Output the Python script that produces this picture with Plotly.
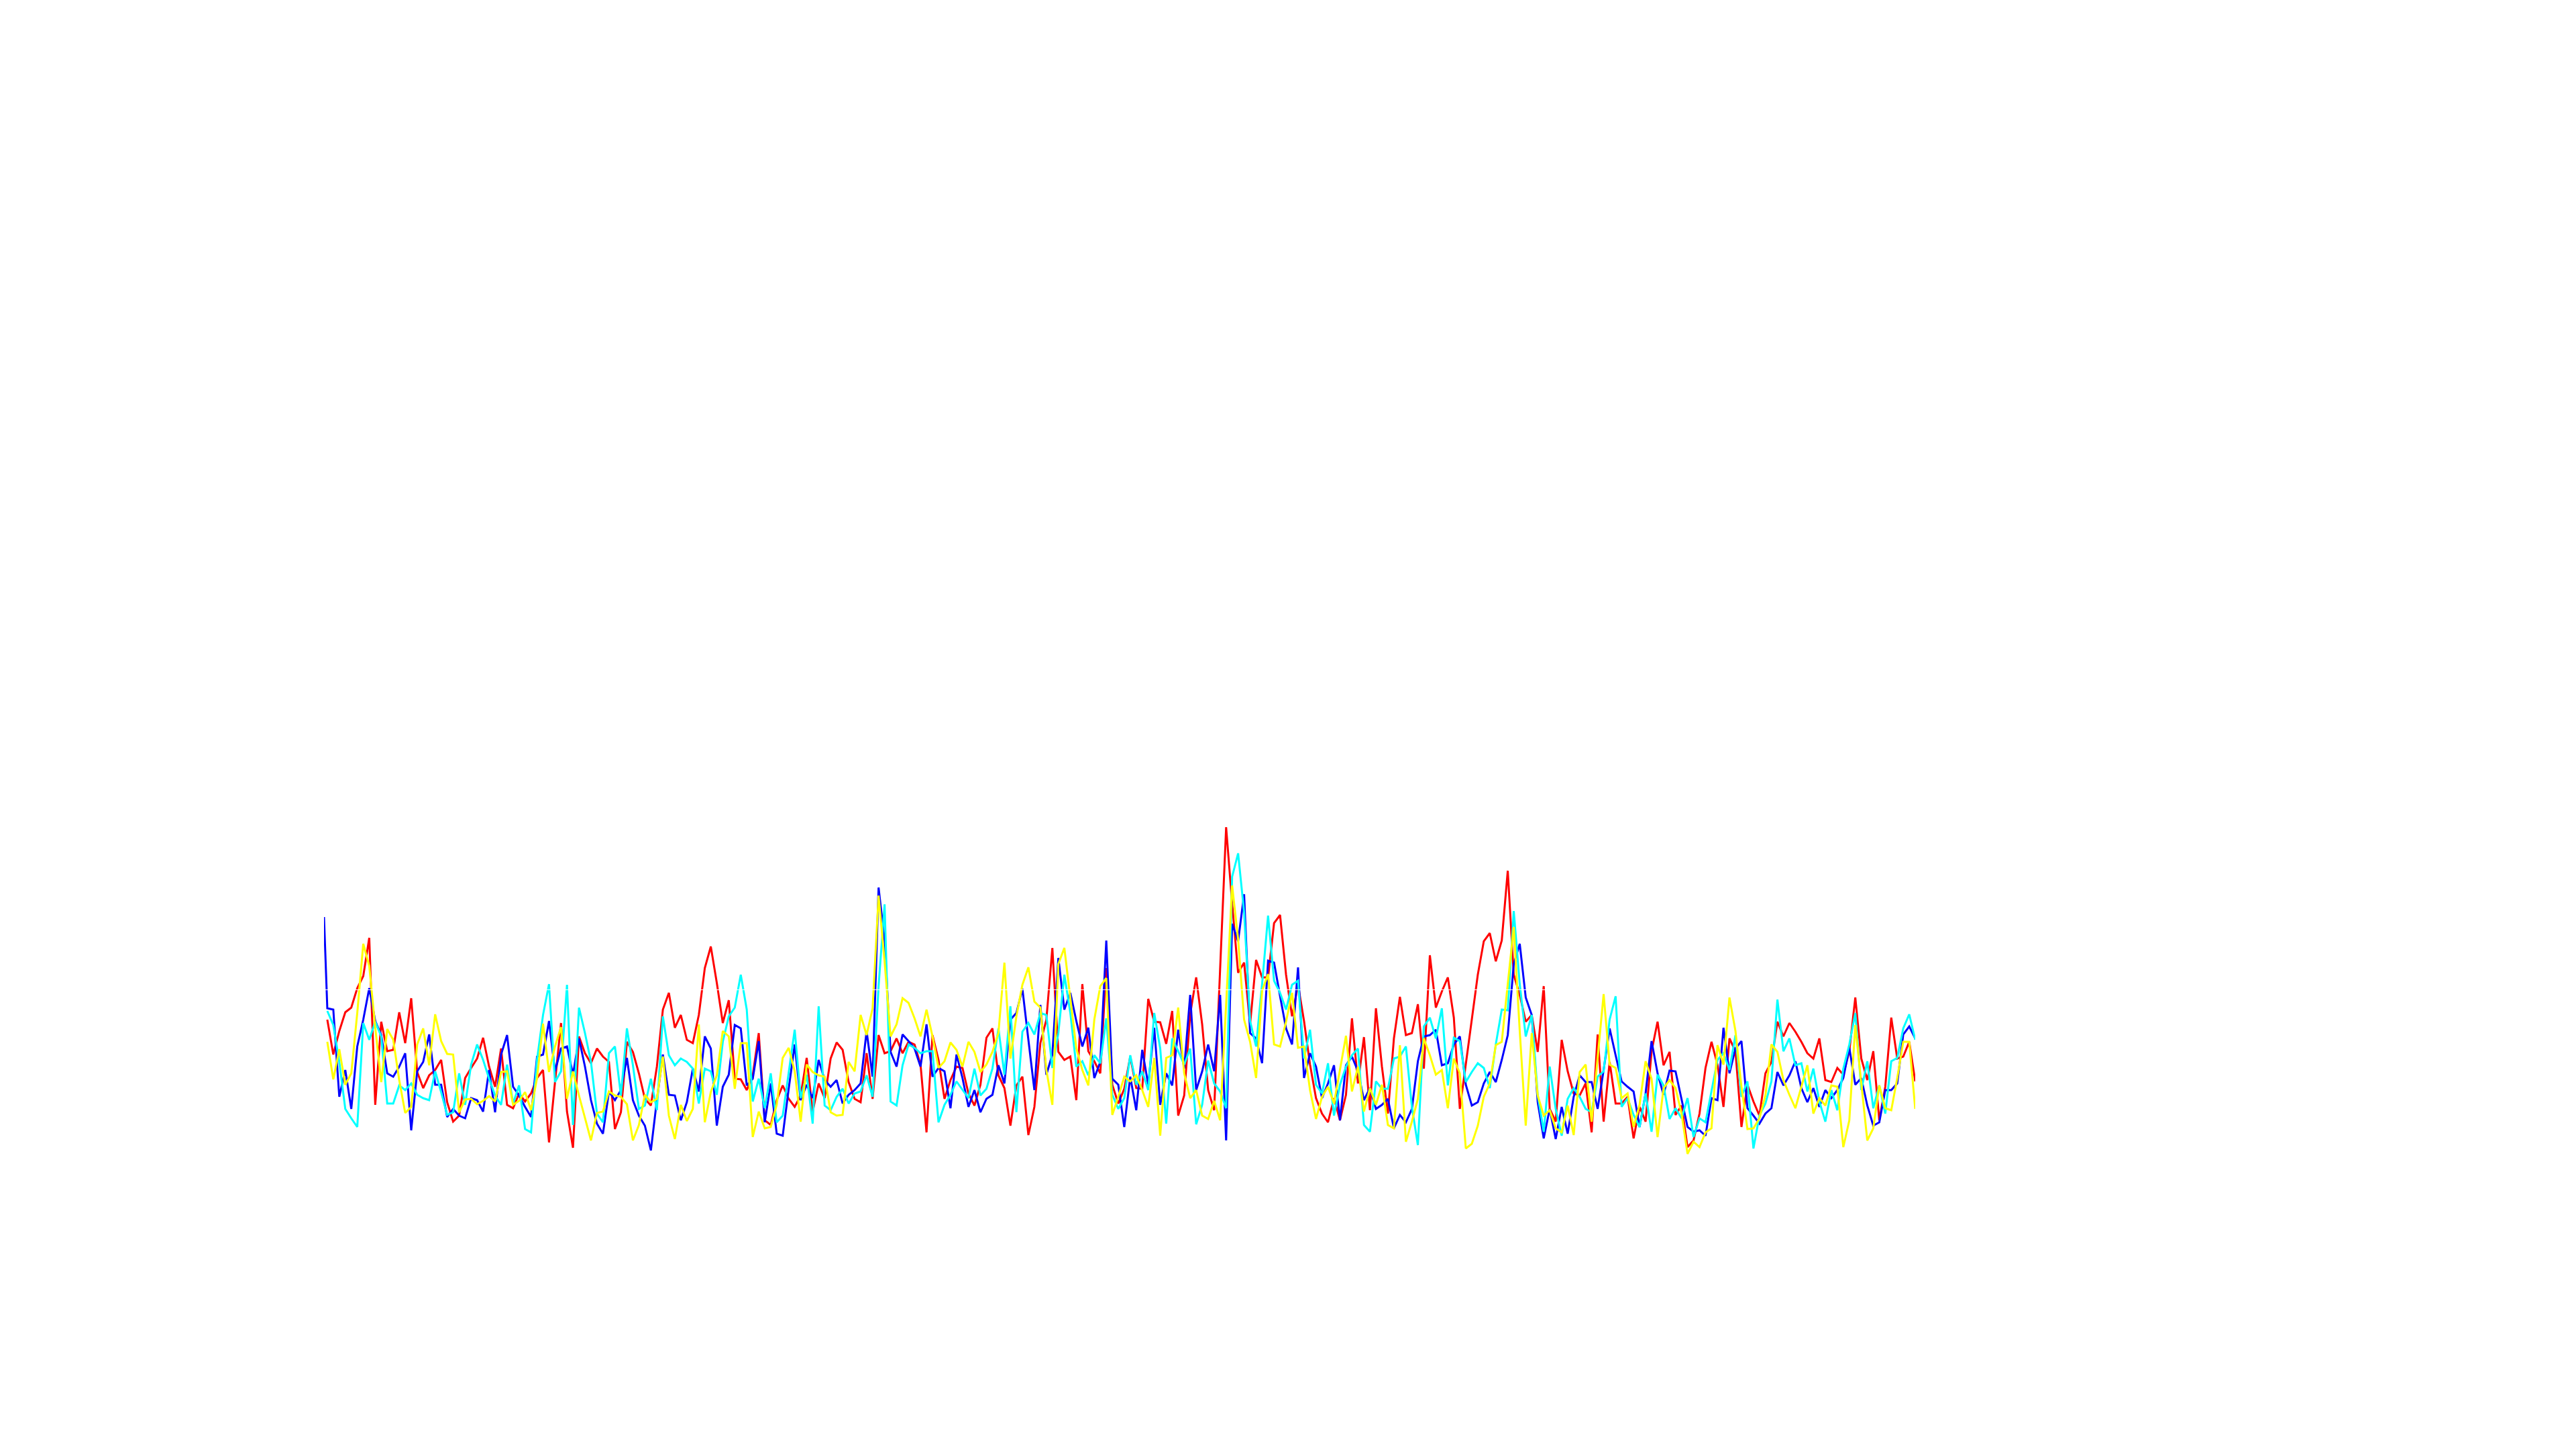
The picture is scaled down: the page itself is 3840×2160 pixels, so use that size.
import plotly.graph_objects as go

# ---- data ----
n_points = 266
x_index = list(range(n_points))
blue_x = [-0.55] + x_index  # blue series has one extra leading sample

red = [21.0, 15.8, 19.3, 22.1, 22.8, 25.7, 27.5, 33.2, 8.3, 20.7, 16.3, 16.5, 22.1, 17.5, 24.2, 13.2, 10.8, 12.7, 13.5, 15.0, 8.7, 5.8, 6.7, 12.3, 13.8, 15.2, 18.3, 14.0, 11.0, 16.7, 8.3, 7.8,
       10.0, 8.8, 10.0, 12.3, 13.5, 2.7, 11.7, 20.5, 7.3, 1.9, 18.5, 16.0, 14.5, 16.7, 15.5, 14.7, 4.7, 7.2, 17.7, 16.2, 13.0, 9.2, 8.2, 14.0, 22.5, 25.0, 19.8, 21.7, 18.0, 17.5, 21.7, 28.7, 31.9, 26.5,
       20.5, 23.9, 12.2, 12.1, 10.5, 12.7, 19.0, 6.0, 5.3, 9.0, 11.2, 9.2, 8.0, 9.7, 15.3, 7.3, 11.5, 9.3, 15.2, 17.6, 16.5, 11.7, 9.2, 8.7, 16.0, 9.2, 18.7, 16.0, 16.3, 18.2, 16.0, 17.7, 17.3, 14.3,
       4.2, 18.7, 15.0, 9.2, 12.0, 14.0, 13.8, 10.0, 8.2, 11.3, 18.3, 19.7, 12.7, 10.8, 5.2, 11.2, 12.5, 3.8, 8.0, 17.5, 21.0, 31.7, 16.2, 15.0, 15.5, 9.0, 26.3, 16.3, 14.8, 13.0, 28.7, 11.3, 8.5,
       10.7, 15.5, 10.8, 10.7, 24.1, 20.7, 20.6, 17.4, 22.3, 6.7, 9.7, 21.8, 27.3, 20.3, 10.5, 7.5, 28.7, 49.7, 38.3, 28.0, 29.5, 20.3, 29.9, 27.3, 27.3, 35.4, 36.6, 27.7, 21.5, 26.2, 20.8, 14.3, 9.3, 7.0,
       5.7, 9.3, 6.0, 9.8, 21.2, 11.5, 18.4, 7.5, 22.7, 14.0, 7.0, 18.2, 24.4, 18.7, 19.0, 23.3, 13.7, 30.6, 22.8, 25.2, 27.3, 21.3, 7.7, 14.3, 20.7, 27.7, 32.7, 33.9, 29.7, 32.8, 43.2, 27.7, 24.7,
       20.7, 21.7, 16.2, 26.0, 7.7, 5.8, 18.0, 13.3, 10.0, 9.7, 11.5, 4.2, 18.8, 5.8, 14.7, 8.5, 8.5, 9.5, 3.3, 8.0, 5.8, 16.3, 20.7, 14.2, 16.2, 6.8, 8.2, 2.0, 3.0, 7.0, 13.8, 17.7, 14.3, 8.0,
       18.2, 16.3, 5.0, 11.3, 8.8, 6.7, 13.0, 14.7, 20.7, 18.5, 20.5, 19.2, 17.7, 16.0, 15.2, 18.2, 12.0, 11.7, 13.8, 12.8, 16.3, 24.3, 15.2, 12.0, 16.3, 6.0, 11.0, 21.3, 15.2, 15.5, 17.7, 11.8]

blue = [36.3,
        22.7, 22.5, 9.5, 13.5, 7.7, 17.0, 21.0, 25.7, 20.8, 18.7, 13.0, 12.5, 14.0, 16.0, 4.5, 13.3, 14.7, 18.8, 11.3, 11.3, 6.5, 7.7, 6.7, 6.3, 9.3, 9.0, 7.3, 13.5, 7.2, 15.8, 18.7, 11.0,
        9.7, 8.0, 6.5, 15.5, 15.8, 20.8, 13.3, 16.7, 17.0, 12.8, 18.2, 14.0, 9.0, 5.5, 4.0, 10.3, 9.0, 10.5, 15.3, 9.0, 6.7, 5.2, 1.5, 9.0, 15.8, 9.8, 9.7, 6.0, 8.7, 13.7, 10.3, 18.5, 16.7, 5.2,
        11.0, 12.8, 20.2, 19.7, 11.2, 12.2, 17.8, 5.7, 11.5, 4.0, 3.7, 10.7, 17.3, 9.0, 11.3, 9.3, 15.0, 12.0, 11.0, 12.0, 8.5, 9.8, 10.5, 11.5, 19.3, 12.5, 40.7, 32.8, 16.2, 14.0, 18.8, 17.8, 16.7,
        14.0, 20.3, 12.5, 13.8, 13.3, 7.8, 15.8, 12.3, 8.0, 10.5, 7.2, 9.2, 9.8, 14.2, 11.5, 21.0, 22.0, 25.6, 18.0, 10.5, 23.2, 12.8, 15.8, 30.2, 22.5, 25.0, 20.8, 17.0, 19.8, 12.3, 14.7, 32.8, 12.2, 11.3,
        5.0, 12.5, 7.5, 16.5, 11.3, 19.8, 8.3, 13.0, 11.2, 19.5, 13.7, 24.7, 10.5, 13.3, 17.3, 13.3, 24.7, 3.0, 35.3, 32.7, 39.7, 19.0, 18.2, 14.5, 29.8, 29.5, 24.5, 19.7, 17.3, 28.8, 12.3, 16.0, 14.0,
        9.3, 11.5, 14.2, 6.0, 14.2, 15.5, 13.3, 9.0, 10.8, 7.7, 8.3, 9.2, 4.8, 6.8, 5.7, 7.7, 14.8, 18.5, 18.7, 19.5, 14.2, 14.5, 17.3, 18.5, 11.3, 8.2, 8.7, 11.5, 13.2, 11.7, 15.0, 18.7, 29.3, 32.3,
        24.3, 21.7, 8.7, 3.3, 7.7, 3.2, 8.0, 4.0, 9.5, 12.7, 11.7, 11.7, 7.7, 13.5, 19.7, 15.7, 11.8, 11.0, 10.3, 5.0, 10.0, 17.8, 13.0, 9.8, 13.4, 13.3, 9.2, 5.0, 4.3, 4.5, 3.7, 9.3, 9.0, 19.8,
        13.0, 16.7, 17.8, 7.8, 6.7, 5.5, 7.0, 7.8, 13.2, 11.2, 12.7, 14.8, 10.8, 8.7, 10.8, 8.0, 10.5, 9.3, 10.5, 12.3, 16.8, 11.3, 12.3, 8.2, 5.2, 5.7, 10.5, 10.5, 11.5, 18.8, 20.0, 18.2]

cyan = [22.3, 20.2, 14.7, 7.7, 6.3, 5.0, 20.5, 18.0, 20.7, 18.5, 8.5, 8.5, 11.2, 10.5, 11.5, 9.8, 9.3, 9.0, 13.3, 10.2, 6.8, 7.2, 13.0, 8.3, 14.3, 17.3, 15.0, 12.2, 9.7, 8.3, 14.3, 8.5,
        11.2, 4.7, 4.2, 15.0, 21.7, 26.3, 11.7, 13.3, 26.2, 5.3, 22.8, 19.0, 14.7, 7.0, 5.7, 16.0, 17.0, 9.7, 19.7, 14.2, 7.7, 8.2, 12.2, 7.5, 21.5, 15.7, 14.2, 15.2, 14.7, 13.7, 8.5, 13.7, 13.3, 9.8,
        17.7, 21.5, 22.8, 27.7, 22.5, 8.8, 12.2, 7.8, 13.0, 5.7, 6.7, 13.0, 19.5, 9.3, 12.8, 5.5, 23.0, 8.2, 7.5, 9.5, 10.7, 8.5, 10.0, 10.3, 12.7, 9.5, 26.0, 38.2, 8.8, 8.2, 14.2, 17.3, 16.8, 16.0,
        16.3, 16.3, 5.7, 8.3, 9.8, 11.8, 10.5, 9.3, 13.7, 9.7, 10.7, 13.7, 19.7, 12.8, 23.0, 7.2, 19.2, 20.5, 18.8, 22.0, 21.7, 13.8, 19.0, 27.7, 22.0, 14.0, 14.8, 12.7, 15.7, 14.5, 21.2, 9.8, 7.7,
        9.3, 15.7, 11.3, 13.3, 10.5, 22.0, 16.7, 5.5, 18.2, 16.3, 14.3, 16.7, 5.4, 8.3, 14.9, 11.5, 10.3, 7.8, 42.3, 45.8, 37.0, 20.8, 17.0, 26.3, 36.5, 26.8, 25.0, 22.5, 26.2, 26.8, 15.2, 19.5, 11.3, 10.0,
        14.5, 6.7, 11.3, 14.0, 15.7, 16.7, 5.3, 4.3, 11.8, 10.7, 10.7, 15.2, 15.5, 17.0, 8.0, 2.3, 20.0, 21.3, 18.2, 22.7, 11.2, 18.3, 17.8, 11.7, 13.2, 14.5, 13.8, 10.8, 17.3, 22.5, 22.4, 37.2, 26.3,
        18.5, 21.7, 9.8, 4.3, 14.0, 7.7, 3.7, 9.2, 10.8, 9.5, 7.7, 7.2, 12.5, 13.3, 21.0, 24.5, 8.0, 9.3, 6.8, 5.0, 10.0, 4.3, 12.8, 11.2, 6.2, 7.8, 6.3, 9.3, 3.5, 6.3, 5.7, 10.3, 15.0, 16.0,
        13.5, 18.7, 9.5, 11.8, 1.8, 6.7, 8.5, 11.8, 24.0, 16.3, 18.2, 14.2, 14.5, 10.3, 13.7, 8.8, 5.8, 10.5, 7.5, 13.7, 17.3, 22.0, 10.5, 14.8, 7.8, 11.2, 7.0, 14.8, 15.3, 19.7, 21.8, 18.0]

yellow = [17.7, 12.1, 16.6, 11.3, 13.0, 22.0, 32.3, 29.0, 19.8, 11.7, 19.6, 18.0, 12.0, 7.1, 8.0, 17.3, 19.7, 14.2, 21.8, 17.8, 15.9, 15.8, 7.2, 9.1, 9.2, 8.4, 8.9, 9.6, 8.8, 13.2, 13.3, 8.3,
          8.9, 10.2, 7.5, 12.3, 20.4, 13.2, 17.0, 19.9, 9.2, 13.3, 9.7, 6.3, 3.0, 7.1, 7.3, 10.3, 9.7, 9.5, 8.4, 3.0, 5.3, 9.8, 8.7, 9.2, 15.5, 6.7, 3.2, 8.3, 5.9, 7.7, 20.3, 5.7, 10.2, 12.7,
          19.3, 18.5, 10.7, 17.5, 17.5, 3.5, 7.3, 4.8, 5.0, 8.3, 15.3, 16.8, 13.3, 5.8, 14.3, 13.2, 12.7, 12.5, 7.2, 6.7, 6.8, 14.7, 13.3, 21.7, 18.7, 22.7, 39.5, 29.7, 18.5, 20.3, 24.2, 23.5, 21.2, 18.5,
          22.5, 18.5, 13.8, 14.8, 17.6, 16.5, 14.0, 17.7, 16.2, 13.2, 14.3, 16.2, 19.0, 29.5, 15.2, 21.5, 26.2, 28.8, 23.7, 22.8, 13.5, 8.3, 29.3, 31.7, 24.3, 16.7, 13.5, 11.2, 21.0, 26.0, 27.2, 6.8, 9.5,
          12.5, 11.8, 12.7, 10.5, 8.0, 15.3, 3.7, 15.3, 15.7, 22.8, 13.0, 9.3, 10.5, 6.7, 6.2, 8.9, 6.0, 23.3, 41.0, 33.0, 21.0, 17.7, 12.3, 25.3, 27.8, 17.3, 17.0, 20.7, 25.0, 16.8, 17.0, 10.5, 6.2, 9.5,
          11.0, 8.5, 13.5, 18.6, 10.3, 14.0, 7.3, 10.8, 8.3, 11.3, 5.3, 4.8, 17.2, 2.8, 5.8, 9.2, 18.2, 15.7, 12.8, 13.5, 7.8, 15.2, 13.0, 1.8, 2.5, 5.2, 9.5, 11.5, 17.2, 17.7, 26.3, 34.8, 19.3,
          5.2, 19.0, 9.7, 6.7, 7.5, 4.8, 4.2, 8.2, 3.8, 13.2, 14.3, 5.8, 15.3, 24.8, 14.3, 13.8, 9.3, 10.0, 5.0, 8.3, 14.8, 12.2, 3.5, 10.8, 12.0, 10.8, 7.0, 1.0, 2.8, 2.0, 4.2, 4.8, 17.2, 14.3,
          24.3, 19.3, 11.0, 4.7, 4.8, 6.3, 9.7, 17.3, 16.2, 12.0, 9.8, 7.8, 11.0, 14.2, 7.0, 9.3, 8.2, 11.2, 11.0, 2.0, 6.0, 20.2, 11.5, 3.0, 4.8, 11.2, 7.8, 7.5, 12.3, 17.7, 17.7, 7.7]

series_names = ["red", "blue", "cyan", "yellow"]
series_colors = ["#FF0000", "#0000FF", "#00FFFF", "#FFFF00"]
reference_level = 25.45

# ---- figure ----
fig = go.Figure()
xs = [x_index, blue_x, x_index, x_index]
ys = [red, blue, cyan, yellow]
for name, color, xv, yv in zip(series_names, series_colors, xs, ys):
    fig.add_trace(go.Scatter(x=xv, y=yv, mode="lines", name=name,
                             line=dict(color=color, width=3)))

fig.add_shape(type="line", xref="paper", x0=0, x1=1, yref="y",
              y0=reference_level, y1=reference_level,
              line=dict(color="white", width=1), layer="above")

fig.update_layout(
    width=3840, height=2160,
    paper_bgcolor="white", plot_bgcolor="white",
    showlegend=False,
    margin=dict(l=475, r=993, t=1192, b=428, autoexpand=False),
    xaxis=dict(visible=False, range=[-0.55, 265]),
    yaxis=dict(visible=False, range=[-1, 53]),
)

fig.write_html("out.html")
